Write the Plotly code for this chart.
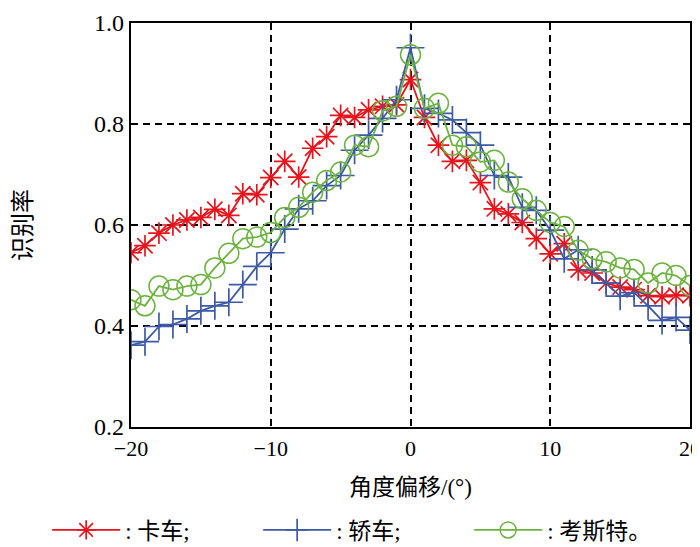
import plotly.graph_objects as go

angles = list(range(-20, 21))
truck = [0.545, 0.559, 0.584, 0.600, 0.610, 0.615, 0.631, 0.619, 0.662, 0.660,
         0.694, 0.726, 0.695, 0.752, 0.775, 0.817, 0.813, 0.828, 0.835, 0.838,
         0.888,
         0.813, 0.758, 0.726, 0.728, 0.684, 0.632, 0.622, 0.605, 0.573, 0.543,
         0.563, 0.511, 0.505, 0.485, 0.477, 0.472, 0.460, 0.458, 0.461, 0.460]
car = [0.362, 0.369, 0.399, 0.403, 0.414, 0.430, 0.440, 0.447, 0.482, 0.518,
       0.545, 0.592, 0.632, 0.648, 0.678, 0.698, 0.748, 0.778, 0.811, 0.848,
       0.951,
       0.831, 0.821, 0.808, 0.783, 0.758, 0.698, 0.695, 0.635, 0.629, 0.590,
       0.533, 0.551, 0.511, 0.485, 0.459, 0.466, 0.440, 0.411, 0.417, 0.392]
coaster = [0.452, 0.440, 0.479, 0.472, 0.479, 0.482, 0.515, 0.544, 0.573, 0.576,
           0.585, 0.615, 0.635, 0.665, 0.688, 0.705, 0.758, 0.755, 0.826, 0.835,
           0.937,
           0.831, 0.841, 0.758, 0.755, 0.725, 0.728, 0.685, 0.652, 0.629, 0.605,
           0.597, 0.550, 0.533, 0.527, 0.515, 0.512, 0.485, 0.505, 0.500, 0.480]
names = [": 卡车;", ": 轿车;", ": 考斯特。"]
x_ticks = [-20, -10, 0, 10, 20]
x_labels = ["\u221220", "\u221210", "0", "10", "20"]
y_ticks = [0.2, 0.4, 0.6, 0.8, 1.0]
y_labels = ["0.2", "0.4", "0.6", "0.8", "1.0"]

FONT = "Liberation Serif, Noto Sans CJK SC, serif"

fig = go.Figure()
fig.add_trace(go.Scatter(x=angles, y=truck, name=names[0], mode="lines+markers",
                         line=dict(color="#e8141c", width=1.8),
                         marker=dict(symbol="asterisk-open", size=18,
                                     line=dict(color="#e8141c", width=1.7))))
fig.add_trace(go.Scatter(x=angles, y=car, name=names[1], mode="lines+markers",
                         line=dict(color="#3c5aa6", width=1.8),
                         marker=dict(symbol="cross-thin-open", size=20,
                                     line=dict(color="#3c5aa6", width=1.7))))
fig.add_trace(go.Scatter(x=angles, y=coaster, name=names[2], mode="lines+markers",
                         line=dict(color="#6cb33f", width=1.8),
                         marker=dict(symbol="circle-open", size=20,
                                     line=dict(color="#6cb33f", width=1.5))))

grid = dict(showline=True, mirror=True, linecolor="black", linewidth=2.2,
            showgrid=True, gridcolor="black", griddash="7px,5px", gridwidth=1.8,
            zeroline=False, ticks="")

fig.update_layout(
    width=700, height=547,
    margin=dict(l=123, r=18, t=15, b=128, autoexpand=False),
    paper_bgcolor="white", plot_bgcolor="white",
    font=dict(family=FONT, size=22, color="black"),
    legend=dict(orientation="h", x=-0.15, xanchor="left", y=-0.255, yanchor="middle",
                itemwidth=68, entrywidth=128, entrywidthmode="pixels",
                font=dict(size=23), tracegroupgap=0,
                bgcolor="rgba(0,0,0,0)"),
    xaxis=dict(range=[-20, 20], tickvals=x_ticks, ticktext=x_labels,
               tickfont=dict(size=22),
               title=dict(text="角度偏移/(°)", font=dict(size=23), standoff=19), **grid),
    yaxis=dict(range=[0.2, 1.0], tickvals=y_ticks, ticktext=y_labels,
               tickfont=dict(size=24),
               title=dict(text="识别率", font=dict(size=24), standoff=56), **grid),
)

fig.write_html("out.html")
